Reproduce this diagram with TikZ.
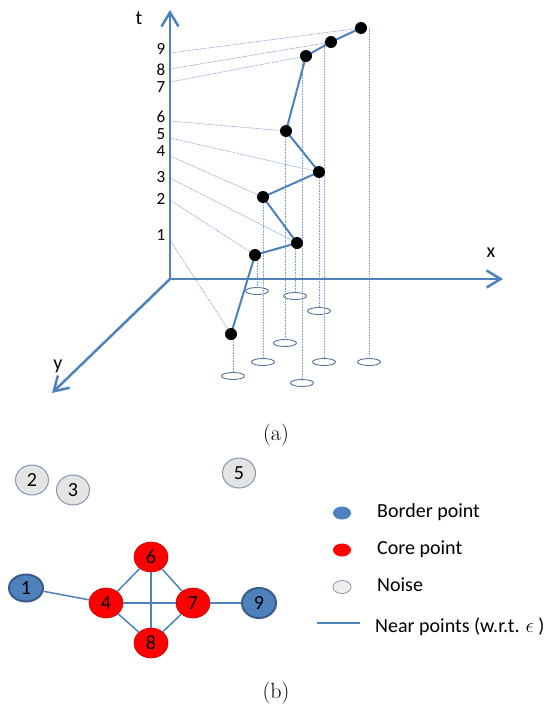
\documentclass[tikz,border=0pt]{standalone}
\usepackage{fontspec}
\newfontfamily\carl{Carlito}
\usetikzlibrary{arrows.meta,shapes.geometric}
\definecolor{axblue}{HTML}{4F81BD}
\definecolor{dkblue}{HTML}{385D8A}
\definecolor{dotblue}{HTML}{7F9FCF}
\definecolor{noisefill}{HTML}{E4E4E4}
\definecolor{noisedraw}{HTML}{8497B0}
\definecolor{coredraw}{HTML}{C00000}
\begin{document}
\begin{tikzpicture}[x=1pt,y=-1pt,
  axis/.style={axblue,line width=2.5pt,-{Straight Barb[length=14pt,width=17pt]}},
  lab/.style={font=\carl\fontsize{20}{24}\selectfont,inner sep=0pt},
  tick/.style={font=\carl\fontsize{17}{20}\selectfont,inner sep=0pt},
  guide/.style={dotblue,line width=0.7pt,dash pattern=on 0.8pt off 0.8pt},
  dot/.style={circle,fill=black,minimum size=12pt,inner sep=0pt},
  proj/.style={ellipse,draw=dkblue!85,line width=0.9pt,fill=white,minimum width=23pt,minimum height=7pt,inner sep=0pt},
  trail/.style={axblue,line width=2pt},
  pt/.style={ellipse,minimum width=34pt,minimum height=30pt,inner sep=0pt,font=\carl\fontsize{20}{24}\selectfont},
  core/.style={pt,fill=red,draw=coredraw,line width=0.6pt},
  border/.style={pt,fill=axblue,draw=dkblue,line width=2pt},
  noise/.style={pt,minimum width=33pt,minimum height=30pt,fill=noisefill,draw=noisedraw,line width=1pt},
  edge/.style={axblue,line width=1.5pt},
  legtxt/.style={anchor=west,inner sep=0pt,font=\carl\fontsize{20}{24}\selectfont},
  legmark/.style={ellipse,minimum width=18pt,minimum height=13pt,inner sep=0pt},
  captxt/.style={anchor=base,inner sep=0pt,font=\fontsize{22}{26}\selectfont}
]
\useasboundingbox (0,0) rectangle (553,704);

% ---------- (a) ----------
\coordinate (O) at (170,279);
\coordinate (Tend) at (170,10);
\coordinate (Xend) at (503,279);
\coordinate (Yend) at (52,393);

% t-axis tick coordinates
\coordinate (t1) at (170,240);
\coordinate (t2) at (170,200);
\coordinate (t3) at (170,178);
\coordinate (t4) at (170,156);
\coordinate (t5) at (170,138);
\coordinate (t6) at (170,121);
\coordinate (t7) at (170,82);
\coordinate (t8) at (170,69);
\coordinate (t9) at (170,53);

% points
\coordinate (p1) at (231,334);
\coordinate (p2) at (255,255);
\coordinate (p3) at (297,243);
\coordinate (p4) at (263,197);
\coordinate (p5) at (319,172);
\coordinate (p6) at (286,131);
\coordinate (p7) at (306,56);
\coordinate (p8) at (331,42);
\coordinate (p9) at (361,28);

% projections
\node[proj] (e1) at (233,376) {};
\node[proj] (e2) at (257,291) {};
\node[proj] (e3) at (295,296) {};
\node[proj] (e4) at (263,362) {};
\node[proj] (e5) at (319,311) {};
\node[proj] (e6) at (285,343) {};
\node[proj] (e7) at (302,383) {};
\node[proj] (e8) at (324,362) {};
\node[proj] (e9) at (369,362) {};

\foreach \i in {1,...,9}{
  \draw[guide] (t\i) -- (p\i);
  \draw[guide] (e\i |- p\i) -- (e\i.north);
}

\draw[axis] (O) -- (Tend);
\draw[axis] (O) -- (Xend);
\draw[axis] (O) -- (Yend);

\draw[trail] (p1) -- (p2) -- (p3) -- (p4) -- (p5) -- (p6) -- (p7) -- (p8) -- (p9);
\foreach \i in {1,...,9}{ \node[dot] (d\i) at (p\i) {}; }

\node[lab] (lt) at (139,18) {t};
\node[lab] (lx) at (491,253) {x};
\node[lab] (ly) at (58,366) {y};

\node[tick] (k9) at (161,49) {9};
\node[tick] (k8) at (161,70) {8};
\node[tick] (k7) at (161,87) {7};
\node[tick] (k6) at (161,117) {6};
\node[tick] (k5) at (161,134) {5};
\node[tick] (k4) at (161,151) {4};
\node[tick] (k3) at (161,177) {3};
\node[tick] (k2) at (161,199) {2};
\node[tick] (k1) at (161,235) {1};

\node[captxt] (capa) at (276,440.5) {(a)};

% ---------- (b) ----------
\node[noise] (n2) at (32,480) {2};
\node[noise] (n3) at (73,490) {3};
\node[noise] (n5) at (239,473) {5};
\node[core] (n6) at (151,557) {6};
\node[border,minimum height=27pt] (n1) at (26,588) {1};
\node[core] (n4) at (106,603) {4};
\node[core] (n7) at (193,603) {7};
\node[border] (n9) at (259,603) {9};
\node[core] (n8) at (151,643) {8};

\draw[edge] (n1) -- (n4);
\draw[edge] (n4) -- (n6);
\draw[edge] (n6) -- (n7);
\draw[edge] (n4) -- (n7);
\draw[edge] (n6) -- (n8);
\draw[edge] (n4) -- (n8);
\draw[edge] (n8) -- (n7);
\draw[edge] (n7) -- (n9);

% legend
\node[legmark,fill=axblue] (lb) at (342,513) {};
\node[legmark,fill=red] (lc) at (342,550) {};
\node[legmark,fill=noisefill!60,draw=noisedraw,line width=0.8pt] (ln) at (342,587) {};
\node[legtxt] (tb) at (377,512) {Border point};
\node[legtxt] (tc) at (377,549) {Core point};
\node[legtxt] (tn) at (377,585) {Noise};
\coordinate (la) at (317,623);
\coordinate (lz) at (360,623);
\draw[edge,line width=1.2pt] (la) -- (lz);
\node[legtxt] (tl) at (375,627) {Near points (w.r.t. $\epsilon$ )};

\node[captxt] (capb) at (276,698) {(b)};
\end{tikzpicture}
\end{document}
